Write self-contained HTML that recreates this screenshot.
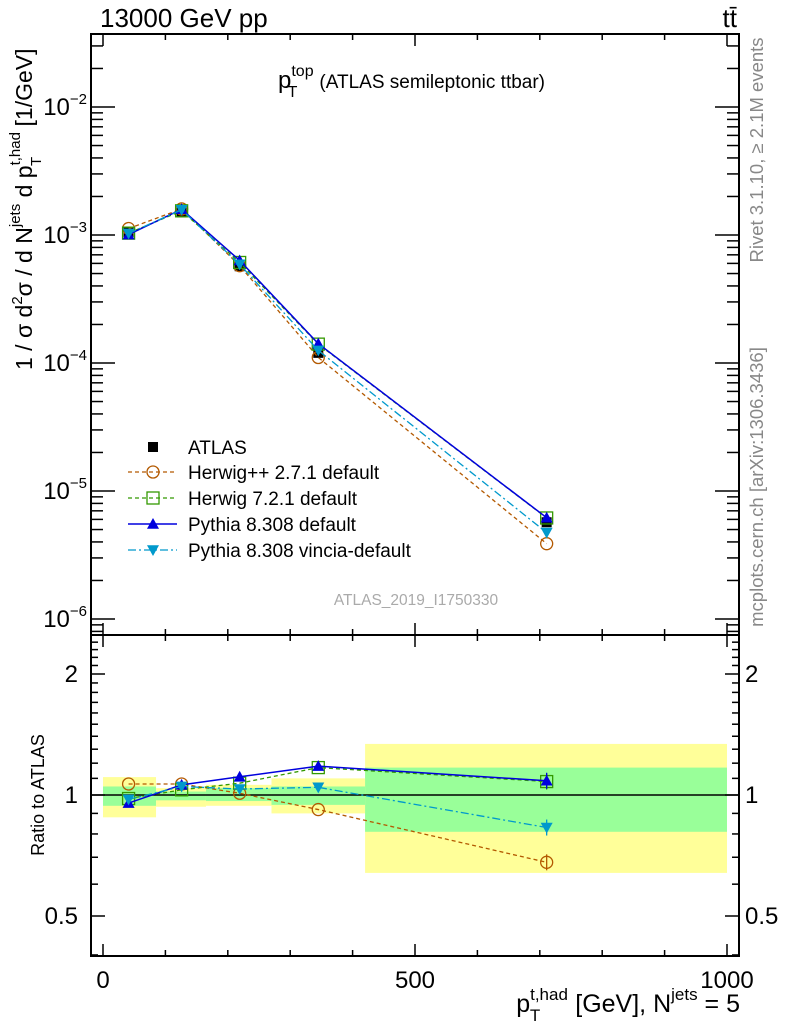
<!DOCTYPE html>
<html><head><meta charset="utf-8"><style>
body{margin:0;background:#fff;}
svg{display:block;font-family:"Liberation Sans",sans-serif;}
</style></head><body>
<svg id="c" width="786" height="1024" viewBox="0 0 786 1024" xmlns="http://www.w3.org/2000/svg">
<text x="100" y="27" font-size="26">13000 GeV pp</text>
<text x="737" y="27" font-size="26" text-anchor="end">tt̄</text>
<text x="278" y="88" font-size="24">p<tspan dy="-12" font-size="16">top</tspan><tspan dx="-26" dy="21" font-size="16">T</tspan><tspan dx="22" dy="-9" font-size="19">(ATLAS semileptonic ttbar)</tspan></text>
<text transform="translate(32,370) rotate(-90)" font-size="23">1 / σ d<tspan dy="-10" font-size="15">2</tspan><tspan dy="10">σ / d N</tspan><tspan dy="-12" font-size="15">jets</tspan><tspan dy="12"> d p</tspan><tspan dy="-12" font-size="15">t,had</tspan><tspan dx="-34" dy="21" font-size="15">T</tspan><tspan dx="24" dy="-9"> [1/GeV]</tspan></text>
<text transform="translate(44,795) rotate(-90)" font-size="18" text-anchor="middle">Ratio to ATLAS</text>
<text transform="translate(763,150) rotate(-90)" font-size="18.5" fill="#888" text-anchor="middle">Rivet 3.1.10, ≥ 2.1M events</text>
<text transform="translate(763,487) rotate(-90)" font-size="18.5" fill="#888" text-anchor="middle">mcplots.cern.ch [arXiv:1306.3436]</text>
<text x="416" y="605" font-size="15.5" fill="#aaa" text-anchor="middle">ATLAS_2019_I1750330</text>
<text x="740" y="1012" font-size="25" text-anchor="end">p<tspan dy="-12" font-size="17">t,had</tspan><tspan dx="-38" dy="21" font-size="17">T</tspan><tspan dx="28" dy="-9"> [GeV], N</tspan><tspan dy="-12" font-size="17">jets</tspan><tspan dy="12"> = 5</tspan></text>
<g id="g"></g>
</svg>
<script>
const edges=[0,85,165,270,420,1000];
const xs=[41,126,219,345,711];
const atlas=[1.055e-3,1.5e-3,5.7e-4,1.2e-4,5.7e-6];
const yelHi=[1.108,1.04,1.06,1.10,1.34];
const yelLo=[0.88,0.935,0.94,0.90,0.64];
const grnHi=[1.05,1.02,1.04,1.05,1.17];
const grnLo=[0.94,0.97,0.966,0.945,0.81];
const rHpp=[1.065,1.065,1.01,0.92,0.68];
const rH7=[0.98,1.03,1.07,1.17,1.08];
const rPy=[0.955,1.06,1.11,1.18,1.085];
const rVin=[0.975,1.05,1.035,1.045,0.83];
const xTicksMajor=[0,500,1000];
const yDecades=[-6,-5,-4,-3,-2];
const ratioTicks=[0.5,1,2];

const NS="http://www.w3.org/2000/svg",G=document.getElementById('g');
const L=91,R=739,T1=34,B1=635,B2=956;
const X=v=>103+v*0.624;
const Y=v=>235-(Math.log10(v)+3)*128;
const RY=v=>795-Math.log2(v)*121;
function el(t,a,p){const e=document.createElementNS(NS,t);for(const k in a)e.setAttribute(k,a[k]);(p||G).appendChild(e);return e;}
function txt(x,y,s,a){const e=el('text',Object.assign({x:x,y:y,'font-size':24},a||{}));e.textContent=s;return e;}
for(let i=0;i<5;i++){
 const b=el('rect',{x:X(edges[i]),y:RY(yelHi[i]),width:X(edges[i+1])-X(edges[i]),height:RY(yelLo[i])-RY(yelHi[i]),fill:'#ffff99'});
 
 
 const g=el('rect',{x:X(edges[i]),y:RY(grnHi[i]),width:X(edges[i+1])-X(edges[i]),height:RY(grnLo[i])-RY(grnHi[i]),fill:'#99ff99'});
 
 
}
el('line',{x1:L,x2:R,y1:RY(1),y2:RY(1),stroke:'#000','stroke-width':1.5});
el('rect',{x:L,y:T1,width:R-L,height:B1-T1,fill:'none',stroke:'#000','stroke-width':2});
el('rect',{x:L,y:B1,width:R-L,height:B2-B1,fill:'none',stroke:'#000','stroke-width':2});
for(let v=0;v<=1000;v+=100){const M=v%500==0,len=M?12:6,x=X(v);
 [[T1,1],[B1,-1],[B1,1],[B2,-1]].forEach(([y,d])=>el('line',{x1:x,x2:x,y1:y,y2:y+d*len,stroke:'#000','stroke-width':1.5}));}
xTicksMajor.forEach(v=>{const t=txt(X(v),988,String(v),{'text-anchor':'middle'});});
for(let d=-7;d<=-1;d++)for(let m=1;m<10;m++){const v=m*Math.pow(10,d),y=Y(v);if(y<T1||y>B1)continue;const len=m==1?24:12;
 el('line',{x1:L,x2:L+len,y1:y,y2:y,stroke:'#000','stroke-width':1.5});el('line',{x1:R,x2:R-len,y1:y,y2:y,stroke:'#000','stroke-width':1.5});}
yDecades.forEach(d=>{const t=el('text',{x:87,y:Y(Math.pow(10,d))+8,'font-size':24,'text-anchor':'end'});
 
 
 t.innerHTML='10<tspan dy="-11" font-size="15">'+String(d).replace('-','−')+'</tspan>';});
for(let v=0.4;v<=2.5;v+=0.1){const y=RY(v);if(y<B1||y>B2)continue;const M=Math.abs(v-0.5)<1e-6||Math.abs(v-1)<1e-6||Math.abs(v-2)<1e-6;const len=M?14:7;
 el('line',{x1:L,x2:L+len,y1:y,y2:y,stroke:'#000','stroke-width':1.5});el('line',{x1:R,x2:R-len,y1:y,y2:y,stroke:'#000','stroke-width':1.5});}
ratioTicks.forEach(v=>{const a=txt(78,RY(v)+8,String(v),{'text-anchor':'end'});
 const b=txt(745,RY(v)+8,String(v));});
function mk(type,x,y,c,s){s=s||6;
 if(type=='sq')return el('rect',{x:x-s,y:y-s,width:2*s,height:2*s,fill:'#000'});
 if(type=='circ')return el('circle',{cx:x,cy:y,r:s,fill:'none',stroke:c,'stroke-width':1.3});
 if(type=='osq')return el('rect',{x:x-s,y:y-s,width:2*s,height:2*s,fill:'none',stroke:c,'stroke-width':1.3});
 if(type=='up')return el('polygon',{points:`${x},${y-s} ${x-s},${y+s*0.8} ${x+s},${y+s*0.8}`,fill:c});
 if(type=='down')return el('polygon',{points:`${x},${y+s} ${x-s},${y-s*0.8} ${x+s},${y-s*0.8}`,fill:c});}
const series=[
 {name:'herwigpp',r:rHpp,c:'#b35900',dash:'4,3',m:'circ',w:1.3},
 {name:'herwig7',r:rH7,c:'#339900',dash:'4,3',m:'osq',w:1.3},
 {name:'pythia',r:rPy,c:'#0000dd',dash:'',m:'up',w:1.5},
 {name:'vincia',r:rVin,c:'#0099cc',dash:'8,3,2,3',m:'down',w:1.3}];
atlas.forEach((v,i)=>{const m=mk('sq',X(xs[i]),Y(v),'#000',5);});
series.forEach(s=>{
 const pm=xs.map((x,i)=>X(x)+','+Y(atlas[i]*s.r[i])).join(' ');
 const pl=el('polyline',{points:pm,fill:'none',stroke:s.c,'stroke-width':s.w,'stroke-dasharray':s.dash});
 
 
 const pr=xs.map((x,i)=>X(x)+','+RY(s.r[i])).join(' ');
 const rl=el('polyline',{points:pr,fill:'none',stroke:s.c,'stroke-width':s.w,'stroke-dasharray':s.dash});
 
 
 xs.forEach((x,i)=>{
  const a=mk(s.m,X(x),Y(atlas[i]*s.r[i]),s.c);
  const b=mk(s.m,X(x),RY(s.r[i]),s.c);
  if(i==4)el('line',{x1:X(x),x2:X(x),y1:RY(s.r[i])-8,y2:RY(s.r[i])+8,stroke:s.c,'stroke-width':1.3});
 });
});
const lg=el('g',{});


const rows=[{t:'ATLAS',m:'sq',c:'#000',d:null},{t:'Herwig++ 2.7.1 default',...series[0]},{t:'Herwig 7.2.1 default',...series[1]},{t:'Pythia 8.308 default',...series[2]},{t:'Pythia 8.308 vincia-default',...series[3]}];
const rowY=[447,472,498,524,550];
rows.forEach((r,i)=>{const y=rowY[i];
 if(i>0)el('line',{x1:128,x2:177,y1:y,y2:y,stroke:r.c,'stroke-width':r.w,'stroke-dasharray':r.dash},lg);
 const m=mk(r.m,153,y,r.c,r.m=='sq'?5:6);lg.appendChild(m);
 const t=el('text',{x:188,y:y+7,'font-size':19},lg);t.textContent=r.t;
 
 });
</script>
</body></html>
